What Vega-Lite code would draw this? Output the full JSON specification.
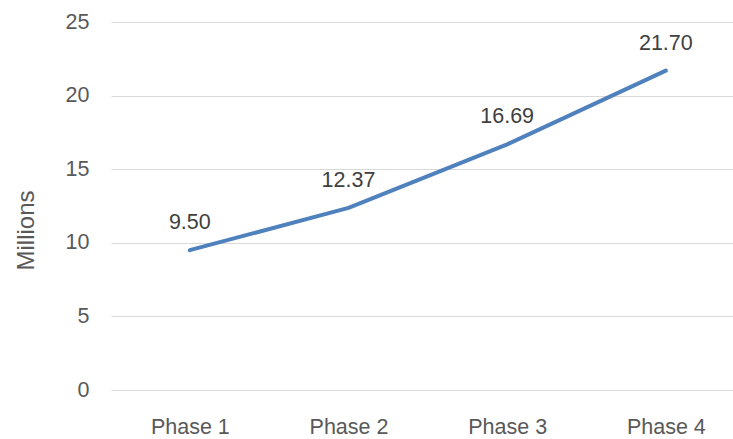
{
  "$schema": "https://vega.github.io/schema/vega-lite/v6.json",
  "width": 622,
  "height": 368,
  "autosize": {"type": "none"},
  "padding": {"left": 111, "top": 22, "right": 0, "bottom": 49},
  "background": "white",
  "config": {
    "view": {"stroke": null},
    "font": "Liberation Sans"
  },
  "data": {
    "values": [
      {"phase": "Phase 1", "value": 9.50},
      {"phase": "Phase 2", "value": 12.37},
      {"phase": "Phase 3", "value": 16.69},
      {"phase": "Phase 4", "value": 21.70}
    ]
  },
  "encoding": {
    "x": {
      "field": "phase",
      "type": "nominal",
      "sort": null,
      "scale": {"type": "point", "padding": 0.46, "align": 0.54},
      "axis": {
        "title": null,
        "labelAngle": 0,
        "labelFontSize": 21.5,
        "labelColor": "#595959",
        "labelPadding": 26,
        "ticks": false,
        "domain": false,
        "grid": false
      }
    },
    "y": {
      "field": "value",
      "type": "quantitative",
      "scale": {"domain": [0, 25]},
      "axis": {
        "values": [0, 5, 10, 15, 20, 25],
        "title": "Millions",
        "titleFontSize": 24,
        "titleFontWeight": "normal",
        "titleColor": "#595959",
        "titleAngle": -90,
        "titleAlign": "center",
        "titleBaseline": "alphabetic",
        "titleX": -78,
        "titleY": 208,
        "labelFontSize": 21.5,
        "labelColor": "#595959",
        "labelPadding": 22,
        "ticks": false,
        "domain": false,
        "grid": true,
        "gridColor": "#D9D9D9",
        "gridWidth": 1
      }
    }
  },
  "layer": [
    {
      "mark": {"type": "line", "color": "#4F81BD", "strokeWidth": 4, "strokeCap": "round", "strokeJoin": "round"}
    },
    {
      "mark": {"type": "text", "fontSize": 21.5, "color": "#404040", "baseline": "alphabetic", "dy": -21},
      "encoding": {
        "text": {"field": "value", "type": "quantitative", "format": ".2f"}
      }
    }
  ]
}
